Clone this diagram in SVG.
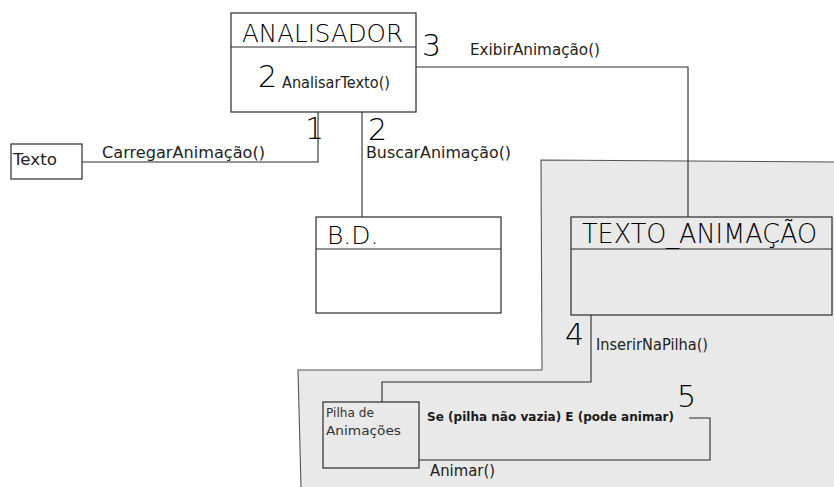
<svg xmlns="http://www.w3.org/2000/svg" width="834" height="487" viewBox="0 0 834 487">
  <style>
    .box { fill: #ffffff; stroke: #2a2a2a; stroke-width: 1.2; }
    .gbox { fill: #e9e9e9; stroke: #2a2a2a; stroke-width: 1.2; }
    .div { stroke: #2a2a2a; stroke-width: 1.2; }
    .wire { fill: none; stroke: #2a2a2a; stroke-width: 1.1; }
    .t { font-family: "DejaVu Sans", "Liberation Sans", sans-serif; font-weight: 300; fill: #000000; }
    .title { font-size: 25px; }
    .lbl { font-size: 15px; font-weight: normal; fill: #222222; }
    .small { font-size: 13px; font-weight: normal; fill: #333333; }
    .num { font-size: 30px; }
    .bold { font-family: "DejaVu Sans", "Liberation Sans", sans-serif; font-weight: bold; font-size: 12.5px; fill: #1a1a1a; }
  </style>

  <!-- shaded area -->
  <g id="area">
    <polygon points="541,160 834,162 834,487 301,487 298,370 542,370" fill="#e9e9e9"/>
    <polyline points="301,487 298,370 542,370 541,160 834,162" fill="none" stroke="#555555" stroke-width="1.1"/>
  </g>

  <!-- connectors and their labels -->
  <g id="connectors">
    <polyline class="wire" points="82,162 318,162 318,112"/>
    <line class="wire" x1="362" y1="112" x2="362" y2="217"/>
    <polyline class="wire" points="416,67 688,67 688,217"/>
    <polyline class="wire" points="591,315 591,382 382,382 382,402"/>
    <polyline class="wire" points="689,418 710,418 710,460 419,460"/>

    <text class="t lbl" x="102" y="158" textLength="163" lengthAdjust="spacingAndGlyphs">CarregarAnimação()</text>
    <text class="t num" x="305" y="139">1</text>
    <text class="t num" x="368" y="140">2</text>
    <text class="t lbl" x="366" y="158" textLength="145" lengthAdjust="spacingAndGlyphs">BuscarAnimação()</text>
    <text class="t num" x="422" y="56">3</text>
    <text class="t lbl" x="470" y="55" textLength="130" lengthAdjust="spacingAndGlyphs">ExibirAnimação()</text>
    <text class="t num" x="565" y="345">4</text>
    <text class="t lbl" x="596" y="350" textLength="112" lengthAdjust="spacingAndGlyphs">InserirNaPilha()</text>
    <text class="bold" x="427" y="421" textLength="247" lengthAdjust="spacingAndGlyphs">Se (pilha não vazia) E (pode animar)</text>
    <text class="t num" x="677" y="407">5</text>
    <text class="t lbl" x="430" y="476" textLength="65" lengthAdjust="spacingAndGlyphs">Animar()</text>
  </g>

  <g id="analisador">
    <rect class="box" x="231" y="13" width="185" height="99"/>
    <line class="div" x1="231" y1="47" x2="416" y2="47"/>
    <text class="t title" x="242" y="42" textLength="161" lengthAdjust="spacingAndGlyphs">ANALISADOR</text>
    <text class="t num" x="258" y="87">2</text>
    <text class="t lbl" x="282" y="88" textLength="108" lengthAdjust="spacingAndGlyphs">AnalisarTexto()</text>
  </g>

  <g id="texto">
    <rect class="box" x="11" y="144" width="71" height="35"/>
    <text class="t lbl" font-size="16" x="13" y="165" textLength="44" lengthAdjust="spacingAndGlyphs">Texto</text>
  </g>

  <g id="bd">
    <rect class="box" x="316" y="217" width="185" height="96"/>
    <line class="div" x1="316" y1="249" x2="501" y2="249"/>
    <text class="t title" x="327" y="244">B.D.</text>
  </g>

  <g id="texto_animacao">
    <rect class="gbox" x="571" y="217" width="261" height="98"/>
    <line class="div" x1="571" y1="249" x2="832" y2="249"/>
    <text class="t" font-size="26" x="582" y="243" textLength="235" lengthAdjust="spacingAndGlyphs">TEXTO_ANIMAÇÃO</text>
  </g>

  <g id="pilha">
    <rect class="gbox" x="323" y="402" width="96" height="66"/>
    <text class="t small" x="326" y="417" textLength="48" lengthAdjust="spacingAndGlyphs">Pilha de</text>
    <text class="t small" x="326" y="435" textLength="75" lengthAdjust="spacingAndGlyphs">Animações</text>
  </g>
</svg>
